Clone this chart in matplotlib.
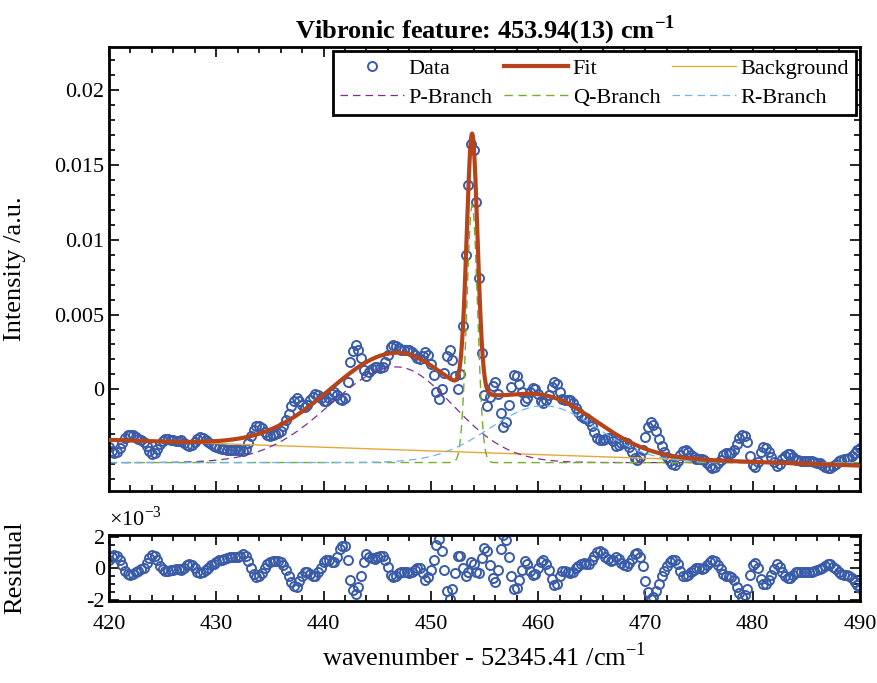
import numpy as np
import matplotlib.pyplot as plt
from matplotlib.ticker import MultipleLocator, FixedLocator

plt.rcParams['font.family'] = ['Liberation Serif', 'DejaVu Serif']
plt.rcParams['mathtext.fontset'] = 'custom'
plt.rcParams['mathtext.rm'] = 'Liberation Serif'
plt.rcParams['mathtext.bf'] = 'Liberation Serif:bold'
plt.rcParams['axes.unicode_minus'] = False

# wavenumber grid of the measured points
wn = np.arange(420, 490.001, 0.25)

# residual (fit - data), units of 1e-3
resid_e3 = [
    0.5, 0.75, 0.85, 0.8, 0.55, 0.2, -0.15, -0.35, -0.4, -0.35, -0.25, -0.15,
    -0.05, 0.05, 0.35, 0.65, 0.85, 0.8, 0.5, 0.15, -0.05, -0.15, -0.15, -0.1,
    -0.1, -0.05, -0.05, -0.1, 0.05, 0.2, 0.3, 0.2, 0.0, -0.2, -0.3, -0.25,
    -0.1, 0.05, 0.2, 0.3, 0.4, 0.5, 0.55, 0.6, 0.65, 0.7, 0.72, 0.7,
    0.72, 0.8, 0.88, 0.8, 0.45, 0.0, -0.35, -0.55, -0.5, -0.3, 0.0, 0.25,
    0.4, 0.45, 0.45, 0.45, 0.4, 0.2, -0.1, -0.45, -0.85, -1.1, -1.15, -0.8,
    -0.45, -0.2, -0.2, -0.35, -0.45, -0.5, -0.25, 0.05, 0.4, 0.55, 0.5, 0.4,
    0.4, 0.75, 1.2, 1.4, 1.4, 0.5, -0.75, -1.35, -1.6, -1.15, -0.5, 0.4,
    0.9, 0.75, 0.65, 0.6, 0.7, 0.78, 0.8, 0.5, 0.1, -0.4, -0.55, -0.45,
    -0.3, -0.2, -0.2, -0.25, -0.3, -0.2, -0.1, 0.0, 0.0, -0.3, -0.7, -0.55,
    -0.1, 0.5, 1.5, 1.85, 1.1, -0.1, -1.4, -1.9, -1.3, -0.3, 0.8, 0.8,
    0.0, -0.5, -0.2, 0.4, 0.3, -0.2, -0.3, 0.67, 1.3, 1.1, 0.2, -0.6,
    -0.85, -0.1, 1.2, 2.1, 1.8, 0.7, -0.5, -1.3, -1.25, -0.7, -0.1, 0.45,
    0.3, -0.15, -0.4, -0.35, 0.0, 0.4, 0.55, 0.3, -0.1, -0.65, -1.05, -1.0,
    -0.5, -0.15, -0.15, -0.2, -0.3, -0.25, 0.0, 0.15, 0.3, 0.35, 0.25, 0.3,
    0.5, 0.8, 1.05, 1.1, 0.95, 0.75, 0.6, 0.45, 0.55, 0.75, 0.6, 0.35,
    0.2, 0.15, 0.35, 0.6, 0.9, 0.95, 0.7, 0.15, -0.8, -1.5, -1.9, -1.8,
    -1.4, -0.95, -0.5, -0.15, 0.15, 0.4, 0.55, 0.55, 0.25, -0.15, -0.45, -0.5,
    -0.4, -0.25, -0.1, 0.0, 0.0, -0.05, 0.0, 0.2, 0.4, 0.55, 0.45, 0.2,
    -0.05, -0.35, -0.5, -0.5, -0.55, -0.75, -1.15, -1.55, -1.8, -1.7, -1.3, -0.4,
    0.2, 0.35, 0.0, -0.65, -1.0, -0.95, -0.7, -0.4, -0.05, 0.25, 0.1, -0.25,
    -0.5, -0.62, -0.6, -0.4, -0.25, -0.2, -0.2, -0.2, -0.2, -0.2, -0.2, -0.15,
    -0.1, -0.05, 0.05, 0.15, 0.25, 0.25, 0.1, -0.05, -0.25, -0.35, -0.4, -0.4,
    -0.45, -0.6, -0.85, -1.05, -1.2,
]

# fit model
bg_ends = [-0.00338, -0.0051]          # linear background at 420 and 490
comp_base = -0.0049                    # offset used when drawing branches
p_branch = dict(center=446.8, amp=0.0064, sig_l=6.2, sig_r=5.2)
q_branch = dict(center=453.85, amp=0.0172, sig_l=0.5, sig_r=0.5)
r_branch = dict(center=460.5, amp=0.0038, sig_l=5.0, sig_r=5.0)


def branch(x, c):
    s = np.where(x < c['center'], c['sig_l'], c['sig_r'])
    return c['amp'] * np.exp(-(x - c['center']) ** 2 / (2 * s ** 2))


def background(x):
    return bg_ends[0] + (bg_ends[1] - bg_ends[0]) * (x - 420) / 70


def fit(x):
    return background(x) + branch(x, p_branch) + branch(x, q_branch) + branch(x, r_branch)


resid = np.array(resid_e3) * 1e-3
data = fit(wn) - resid
xf = np.linspace(420, 490, 1401)

c_data = '#3a5ca8'
c_fit = '#b5441b'
c_bg = '#e3a93a'
c_p = '#7e2f8e'
c_q = '#77ac30'
c_r = '#6bb6ee'

fig = plt.figure(figsize=(8.78, 6.83), dpi=100)
ax1 = fig.add_axes([0.1241, 0.2811, 0.8554, 0.6501])
ax2 = fig.add_axes([0.1241, 0.120, 0.8554, 0.0966], sharex=ax1)

dash = (0, (6, 4))
h_data, = ax1.plot(wn, data, 'o', ms=6.5, mfc='none', mec=c_data, mew=1.4, label='Data')
h_fit, = ax1.plot(xf, fit(xf), color=c_fit, lw=3, label='Fit', zorder=4)
h_bg, = ax1.plot(xf, background(xf), color=c_bg, lw=1, label='Background')
h_p, = ax1.plot(xf, comp_base + branch(xf, p_branch), color=c_p, lw=0.9, ls=dash, label='P-Branch')
h_q, = ax1.plot(xf, comp_base + branch(xf, q_branch), color=c_q, lw=1.0, ls=dash, label='Q-Branch')
h_r, = ax1.plot(xf, comp_base + branch(xf, r_branch), color=c_r, lw=0.9, ls=dash, label='R-Branch')

ax1.set_xlim(420, 490)
ax1.set_ylim(-0.0068, 0.0229)
ax1.set_yticks([0, 0.005, 0.01, 0.015, 0.02])
ax1.set_yticklabels(['0', '0.005', '0.01', '0.015', '0.02'])
ax1.yaxis.set_minor_locator(MultipleLocator(0.001))
ax1.set_ylabel('Intensity /a.u.', fontsize=19)
ax1.set_title(r'Vibronic feature: 453.94(13) cm$^{\mathbf{-1}}$', fontsize=19,
              fontweight='bold', pad=6)
plt.setp(ax1.get_xticklabels(), visible=False)

leg = ax1.legend([h_data, h_p, h_fit, h_q, h_bg, h_r],
                 ['Data', 'P-Branch', 'Fit', 'Q-Branch', 'Background', 'R-Branch'],
                 ncol=3, loc='upper right', fontsize=16, frameon=True, fancybox=False,
                 edgecolor='black', handlelength=2.9, handletextpad=0.2,
                 columnspacing=0.5, labelspacing=0.4, borderpad=0.3,
                 borderaxespad=0.2, framealpha=1)
leg.get_frame().set_linewidth(2)

ax2.plot(wn, resid, 'o', ms=6.5, mfc='none', mec=c_data, mew=1.4)
ax2.set_ylim(-2.05e-3, 2.1e-3)
ax2.yaxis.set_major_locator(FixedLocator([-2e-3, 0, 2e-3]))
ax2.set_yticklabels(['-2', '0', '2'])
ax2.yaxis.set_minor_locator(MultipleLocator(0.5e-3))
ax2.set_ylabel('Residual', fontsize=19)
ax2.text(0.0, 1.06, r'$\times$10$^{-3}$', transform=ax2.transAxes, fontsize=16,
         va='bottom', ha='left')
ax2.set_xticks(np.arange(420, 491, 10))
ax2.xaxis.set_minor_locator(MultipleLocator(2))
ax2.set_xlabel(r'wavenumber - 52345.41 /cm$^{-1}$', fontsize=19, labelpad=6)

for ax in (ax1, ax2):
    ax.tick_params(which='both', direction='in', top=True, right=True,
                   labelsize=16, width=1.2)
    ax.tick_params(which='major', length=7)
    ax.tick_params(which='minor', length=4)
    for sp in ax.spines.values():
        sp.set_linewidth(2)
ax2.tick_params(axis='x', pad=10)
ax2.tick_params(axis='y', pad=3)

ax1.yaxis.set_label_coords(-0.11, 0.5)
ax2.yaxis.set_label_coords(-0.11, 0.5)

plt.savefig('out.png', dpi=100)
